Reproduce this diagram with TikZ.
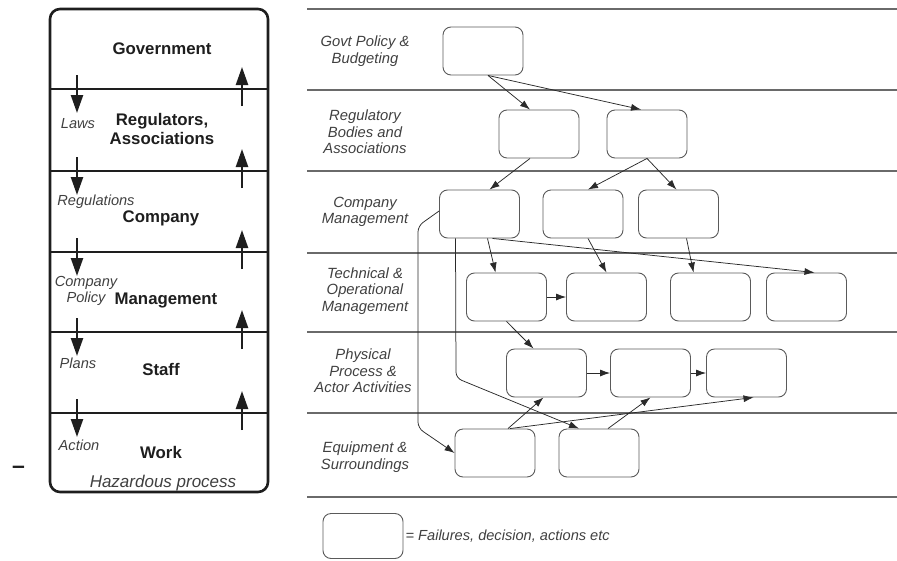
\documentclass[tikz,border=0pt]{standalone}
\usepackage{fontspec}
\setmainfont{Liberation Sans}
\usetikzlibrary{arrows.meta,calc}
\definecolor{ink}{HTML}{1E1E1E}
\definecolor{lbl}{HTML}{404040}
\definecolor{rule}{HTML}{6A6A6A}
\definecolor{boxline}{HTML}{5A5A5A}
\definecolor{wire}{HTML}{2A2A2A}

\begin{document}
\begin{tikzpicture}[x=1pt,y=-1pt,
  evt/.style={draw=boxline,line width=0.9pt,rounded corners=8pt,
    minimum width=80pt,minimum height=48pt,inner sep=0pt},
  lane/.style={font=\fontsize{14.8}{16.6}\selectfont\itshape,text=lbl,align=center},
  level/.style={font=\fontsize{16.8}{18.5}\selectfont\bfseries,text=ink,align=center},
  flow/.style={font=\fontsize{14.6}{16.6}\selectfont\itshape,text=lbl,align=center},
  link/.style={draw=wire,line width=0.75pt,-{Latex[length=10pt,width=7pt]}},
  divider/.style={draw=rule,line width=1.1pt},
  bar/.style={draw=ink,line width=2.6pt},
  chain/.style={draw=ink,line width=2.4pt,-{Triangle[length=18pt,width=12pt]}},
]
\useasboundingbox (0,0) rectangle (897,560);

% ---------- left: hierarchy of the socio-technical system ----------
\draw[draw=ink,line width=2.6pt,rounded corners=10pt] (50,9) rectangle (268,492);
\foreach \y [count=\i] in {89,171,252,332,413} {
  \draw[bar] (50,\y) -- (268,\y);
  \coordinate (dn\i a) at (77,{\y-14});
  \coordinate (dn\i b) at (77,{\y+24});
  \coordinate (up\i a) at (242,{\y+17});
  \coordinate (up\i b) at (242,{\y-22});
  \draw[chain] (dn\i a) -- (dn\i b);
  \draw[chain] (up\i a) -- (up\i b);
}

\node[level] (lgov)  at (162,49)  {Government};
\node[level] (lreg)  at (162,129) {Regulators,\\Associations};
\node[level] (lcomp) at (161,218) {Company};
\node[level] (lman)  at (166,300) {Management};
\node[level] (lstaff) at (161,369) {Staff};
\node[level] (lwork) at (161,452) {Work};
\node[font=\fontsize{17}{19}\selectfont\itshape,text=lbl] (lhaz) at (163,483) {Hazardous process};

\node[flow] (flaws)  at (78,124) {Laws};
\node[flow] (fregs)  at (96,202) {Regulations};
\node[flow] (fpol)   at (86,291) {Company\\Policy};
\node[flow] (fplans) at (78,363) {Plans};
\node[flow] (fact)   at (79,445) {Action};

\node[font=\fontsize{23}{25}\selectfont\bfseries,text=ink] (dash) at (18.5,470) {–};

% ---------- right: lanes ----------
\foreach \y in {9,90,171,253,332,413,497}
  \draw[divider] (307,\y) -- (897,\y);

\node[lane] (tgov)  at (365,51)  {Govt Policy \&\\Budgeting};
\node[lane] (treg)  at (365,132) {Regulatory\\Bodies and\\Associations};
\node[lane] (tcomp) at (365,212) {Company\\Management};
\node[lane] (ttech) at (365,291) {Technical \&\\Operational\\Management};
\node[lane] (tphys) at (363,371) {Physical\\Process \&\\Actor Activities};
\node[lane] (tequip) at (365,457) {Equipment \&\\Surroundings};

% events
\node[evt] (gov)  at (483,51)    {};
\node[evt] (reg1) at (539,134)   {};
\node[evt] (reg2) at (647,134)   {};
\node[evt] (cm1)  at (479.5,214) {};
\node[evt] (cm2)  at (583,214)   {};
\node[evt] (cm3)  at (678.5,214) {};
\node[evt] (tm1)  at (506.5,297) {};
\node[evt] (tm2)  at (606.5,297) {};
\node[evt] (tm3)  at (710.5,297) {};
\node[evt] (tm4)  at (806.5,297) {};
\node[evt] (pp1)  at (546.5,373) {};
\node[evt] (pp2)  at (650.5,373) {};
\node[evt] (pp3)  at (746.5,373) {};
\node[evt] (eq1)  at (495,453)   {};
\node[evt] (eq2)  at (599,453)   {};

% causal links
\draw[link] ($(gov.south)+(5,0)$) -- ($(reg1.north)+(-9,0)$);
\draw[link] ($(gov.south)+(5,0)$) -- ($(reg2.north)+(-6,0)$);
\draw[link] ($(reg1.south)+(-9,0)$) -- ($(cm1.north)+(10,0)$);
\draw[link] (reg2.south) -- ($(cm2.north)+(5,0)$);
\draw[link] (reg2.south) -- ($(cm3.north)+(-2,0)$);
\draw[link] ($(cm1.south)+(8,0)$) -- ($(tm1.north)+(-11,0)$);
\draw[link] ($(cm1.south)+(13,0)$) -- ($(tm4.north)+(8,0)$);
\draw[link] ($(cm2.south)+(5,0)$) -- (tm2.north);
\draw[link] ($(cm3.south)+(8,0)$) -- ($(tm3.north)+(-17,0)$);
\draw[link] (tm1.east) -- (tm2.west);
\draw[link] (tm1.south) -- ($(pp1.north)+(-13,0)$);
\draw[link] (pp1.east) -- (pp2.west);
\draw[link] (pp2.east) -- (pp3.west);
\draw[link] ($(eq1.north)+(13,0)$) -- ($(pp1.south)+(-3,0)$);
\draw[link] ($(eq1.north)+(15,0)$) -- ($(pp3.south)+(7,0)$);
\draw[link] ($(eq2.north)+(9,0)$) -- (pp2.south);

\coordinate (bendA) at (418,226);
\coordinate (bendB) at (418,428);
\coordinate (bendC) at (456,378);
\draw[link,rounded corners=6pt] ($(cm1.west)+(0,-3)$) -- (bendA) -- (bendB) -- (eq1.west);
\draw[link,rounded corners=6pt] ($(cm1.south)+(-24,0)$) -- (bendC) -- ($(eq2.north)+(-20,0)$);

% legend
\node[evt,minimum height=45pt] (key) at (363,536) {};
\node[flow,anchor=west,inner sep=2pt] (keytext) at (key.east) {= Failures, decision, actions etc};

\end{tikzpicture}
\end{document}
